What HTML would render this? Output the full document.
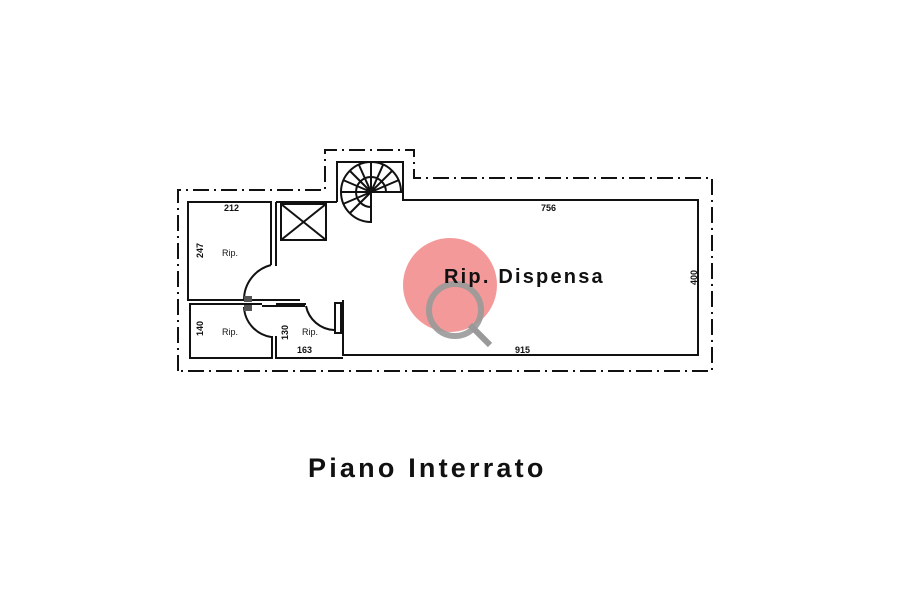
<!DOCTYPE html>
<html><head><meta charset="utf-8"><style>
body{margin:0;background:#fff;width:900px;height:600px;overflow:hidden}
svg{display:block}
</style></head><body>
<svg width="900" height="600" viewBox="0 0 900 600" font-family="Liberation Sans, sans-serif">
<g fill="none" stroke="#111" stroke-width="2" stroke-dasharray="16,5,2,5">
<polyline points="178,371 178,190 325,190 325,150 414,150 414,178 712,178 712,371 178,371"/>
</g>
<g fill="none" stroke="#111" stroke-width="2">
<polyline points="262,300 188,300 188,202 271,202 271,265"/>
<line x1="276" y1="202" x2="276" y2="266"/>
<line x1="276" y1="202" x2="337" y2="202"/>
<rect x="281" y="204" width="45" height="36"/>
<line x1="281" y1="204" x2="326" y2="240"/><line x1="326" y1="204" x2="281" y2="240"/>
<polyline points="337,202 337,162 403,162 403,200 698,200 698,355 343,355 343,300"/>
<path d="M371,222 A30,30 0 1 1 401,192 L371,192 Z"/>
<path d="M371,207 A15,15 0 1 1 386,192"/>
<line x1="341" y1="192" x2="371" y2="192"/><line x1="371" y1="162" x2="371" y2="222"/>
<line x1="350" y1="171" x2="371" y2="192"/><line x1="392" y1="171" x2="371" y2="192"/>
<line x1="350" y1="213" x2="371" y2="192"/>
<line x1="359" y1="165" x2="371" y2="192"/><line x1="383" y1="165" x2="371" y2="192"/>
<line x1="343" y1="180" x2="371" y2="192"/><line x1="343" y1="204" x2="371" y2="192"/>
<line x1="399" y1="180" x2="371" y2="192"/>
<line x1="262" y1="300" x2="300" y2="300"/>
<line x1="262" y1="306" x2="300" y2="306"/>
<line x1="276" y1="306" x2="305" y2="306"/>
<polyline points="262,304 190,304 190,358 272,358 272,336"/>
<polyline points="276,336 276,358 343,358"/>
<line x1="276" y1="304" x2="306" y2="304"/>
<rect x="335" y="303" width="6" height="30"/>
<path d="M271,265 A36,36 0 0 0 244,300"/>
<path d="M244,307 A32,32 0 0 0 271,337"/>
<path d="M306,306 A30,30 0 0 0 334,330"/>
</g>
<rect x="244" y="296" width="8" height="6" fill="#555"/>
<rect x="244" y="305" width="8" height="6" fill="#555"/>
<circle cx="450" cy="285" r="47" fill="#f08080" opacity="0.8"/>
<circle cx="455" cy="310" r="26" fill="none" stroke="#999" stroke-width="6" opacity="0.9"/>
<line x1="470" y1="325" x2="490" y2="345" stroke="#999" stroke-width="6"/>
<g font-size="9" fill="#111" font-weight="bold">
<text x="224" y="211">212</text>
<text x="222" y="256" font-weight="normal">Rip.</text>
<text x="222" y="335" font-weight="normal">Rip.</text>
<text x="302" y="335" font-weight="normal">Rip.</text>
<text x="297" y="353">163</text>
<text x="541" y="211">756</text>
<text x="515" y="353">915</text>
<text transform="translate(203,258) rotate(-90)">247</text>
<text transform="translate(203,336) rotate(-90)">140</text>
<text transform="translate(288,340) rotate(-90)">130</text>
<text transform="translate(697,285) rotate(-90)">400</text>
</g>
<text x="444" y="283" font-size="20" font-weight="bold" fill="#111" letter-spacing="2.2">Rip. Dispensa</text>
<text x="308" y="477" font-size="27" font-weight="bold" fill="#111" letter-spacing="3.2">Piano Interrato</text>
</svg>
</body></html>
